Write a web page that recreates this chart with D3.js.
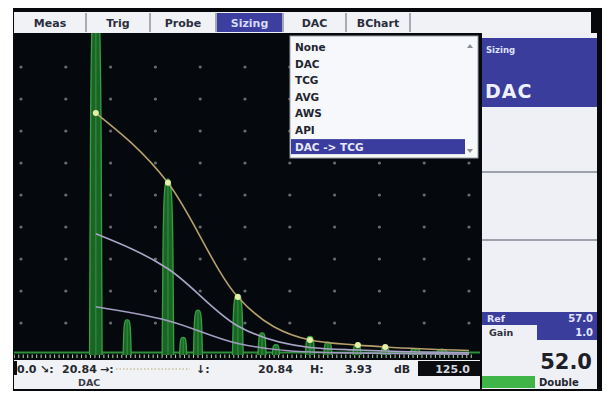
<!DOCTYPE html>
<html>
<head>
<meta charset="utf-8">
<script src="https://cdn.jsdelivr.net/npm/d3@7"></script>
<style>
  body { margin: 0; background: #ffffff; }
  svg { display: block; font-family: "DejaVu Sans", "Liberation Sans", sans-serif; }
</style>
</head>
<body>
<svg id="chart" width="606" height="394"></svg>
<script>
// ---- menu content ----
const tabLabels = ["Meas", "Trig", "Probe", "Sizing", "DAC", "BChart"];
const tabEdges = [14, 86, 150, 216, 283, 346, 410];
const activeTab = "Sizing";
const sizingModes = ["None", "DAC", "TCG", "AVG", "AWS", "API", "DAC -> TCG"];
const selectedMode = "DAC -> TCG";

// ---- DAC reference points: position (% of screen width), amplitude (% full screen height) ----
const dacPos = [16.7, 32.8, 48.4, 64.5, 75.2, 81.3, 100];
const dacAmp = [75.6, 53.8, 18.1, 4.7, 3.1, 2.5, 1.4];
const dacMarked = [true, true, true, true, true, true, false];
// curve family offsets in dB relative to the reference curve
const curveOffsetsDb = [0, -6, -14];

// ---- A-scan echoes: position (%), peak amplitude (% FSH), half width (%) ----
const echoPos = [16.7, 23.7, 32.8, 36.2, 39.5, 48.4, 53.8, 56.9, 64.5, 68.5, 75.0, 81.3, 88.0, 94.0];
const echoAmp = [112, 11, 55, 5.5, 14, 19, 6.9, 3.2, 5.8, 4.0, 3.2, 2.8, 2.0, 1.8];
const echoHalfWidth = [1.4, 0.9, 1.3, 0.8, 1.0, 1.2, 0.9, 0.8, 1.0, 0.9, 0.9, 0.9, 1.2, 1.2];

// ---- graticule ----
const gridCols = d3.range(0, 101, 10);
const gridRows = d3.range(10, 91, 10);

// ---- readouts ----
const statusLabels = ["0.0", "↘:", "20.84", "→:", "↓:", "20.84", "H:", "3.93", "dB"];
const statusX = [17, 40, 62, 100, 196, 258, 310, 345, 394];
const rangeValue = "125.0";
const sizingMode = "DAC";
const refDb = "57.0";
const gainStep = "1.0";
const gainDb = "52.0";
const stepMode = "Double";

const svg = d3.select("#chart");
const defs = svg.append("defs");
defs.append("filter").attr("id", "soft").append("feGaussianBlur").attr("stdDeviation", 0.6);
defs.append("clipPath").attr("id", "screenClip")
  .append("rect").attr("x", 14).attr("y", 33).attr("width", 466).attr("height", 326);

const x = d3.scaleLinear().domain([0, 100]).range([21, 469]);
const y = d3.scaleLinear().domain([0, 100]).range([355, 35]);

// instrument bezel
svg.append("rect").attr("x", 13).attr("y", 8).attr("width", 589).attr("height", 383).attr("fill", "#06080b");

// A-scan screen
svg.append("rect").attr("x", 14).attr("y", 33).attr("width", 466).attr("height", 327).attr("fill", "#05080c");

const screen = svg.append("g").attr("clip-path", "url(#screenClip)");

// graticule dots
const dots = screen.append("g").attr("filter", "url(#soft)");
gridRows.forEach(r => {
  dots.selectAll(null).data(gridCols).join("circle")
    .attr("cx", d => x(d)).attr("cy", y(r)).attr("r", 1.6).attr("fill", "#666c6f");
});

// baseline ruler ticks
const ruler = screen.append("g").attr("filter", "url(#soft)");
ruler.selectAll(null).data(d3.range(-1.5, 101.5, 1)).join("line")
  .attr("x1", d => x(d)).attr("x2", d => x(d))
  .attr("y1", y(0) - 0.5).attr("y2", y(0) + 3)
  .attr("stroke", "#b8d8b0").attr("stroke-width", 1);

// echoes
const echoLine = d3.line().x(d => x(d[0])).y(d => y(d[1])).curve(d3.curveMonotoneX);
const echoes = echoPos.map((p, i) => {
  const a = echoAmp[i], w = echoHalfWidth[i];
  return [[p - w, 0], [p - 0.85 * w, a * 0.6], [p - 0.6 * w, a * 0.92], [p - 0.3 * w, a * 0.99], [p, a],
          [p + 0.3 * w, a * 0.99], [p + 0.6 * w, a * 0.92], [p + 0.85 * w, a * 0.6], [p + w, 0]];
});
const wave = screen.append("g").attr("filter", "url(#soft)");
wave.append("line")
  .attr("x1", 14).attr("x2", 480).attr("y1", y(0.8)).attr("y2", y(0.8))
  .attr("stroke", "#2f8f3a").attr("stroke-width", 2);
wave.selectAll("path.echo").data(echoes).join("path")
  .attr("class", "echo")
  .attr("d", echoLine)
  .attr("fill", "#1d6428")
  .attr("stroke", "#34a043")
  .attr("stroke-width", 1.3);
wave.selectAll("line.core").data(echoPos).join("line")
  .attr("class", "core")
  .attr("x1", d => x(d)).attr("x2", d => x(d))
  .attr("y1", y(0)).attr("y2", (d, i) => y(echoAmp[i] * 0.97))
  .attr("stroke", "#2c9038").attr("stroke-width", 1.2);

// DAC curve family
const curveLine = d3.line().x(d => x(d[0])).y(d => y(d[1])).curve(d3.curveMonotoneX);
const curveColors = ["#b5a06a", "#aaa4c6", "#a29cc0"];
const curves = screen.append("g").attr("filter", "url(#soft)");
curveOffsetsDb.forEach((db, k) => {
  const f = Math.pow(10, db / 20);
  const pts = dacPos.map((p, i) => [p, dacAmp[i] * f]);
  curves.append("path").attr("d", curveLine(pts))
    .attr("fill", "none").attr("stroke", curveColors[k]).attr("stroke-width", 1.6);
});
curves.selectAll("circle").data(dacPos.filter((d, i) => dacMarked[i])).join("circle")
  .attr("cx", d => x(d)).attr("cy", (d, i) => y(dacAmp[i]))
  .attr("r", 3).attr("fill", "#e6efa8");

// tab bar
svg.append("rect").attr("x", 14).attr("y", 12).attr("width", 577).attr("height", 21).attr("fill", "#f1f2f6");
tabLabels.forEach((t, i) => {
  const x0 = tabEdges[i], x1 = tabEdges[i + 1];
  if (t === activeTab) {
    svg.append("rect").attr("x", x0 + 1).attr("y", 13).attr("width", x1 - x0 - 2).attr("height", 19).attr("fill", "#3c3f9f");
  }
  svg.append("line").attr("x1", x1).attr("x2", x1).attr("y1", 13).attr("y2", 32)
    .attr("stroke", "#8d929c").attr("stroke-width", 1.5);
  svg.append("text").attr("x", (x0 + x1) / 2).attr("y", 26.5)
    .attr("text-anchor", "middle").attr("font-size", 11).attr("font-weight", "bold")
    .attr("fill", t === activeTab ? "#d8dafa" : "#2b2e3c").text(t);
});

// sizing mode drop-down
const dd = svg.append("g");
dd.append("rect").attr("x", 290).attr("y", 36).attr("width", 188).attr("height", 122)
  .attr("fill", "#f7f8fb").attr("stroke", "#9aa0aa").attr("stroke-width", 1);
sizingModes.forEach((m, i) => {
  const cy = 47 + i * 16.6;
  if (m === selectedMode) {
    dd.append("rect").attr("x", 291).attr("y", cy - 7.5).attr("width", 174).attr("height", 15).attr("fill", "#3a3d9d");
  }
  dd.append("text").attr("x", 295).attr("y", cy + 4)
    .attr("font-size", 10.5).attr("font-weight", "bold")
    .attr("fill", m === selectedMode ? "#e8e9ff" : "#23252e").text(m);
});
dd.append("path").attr("d", "M467,48 L473,48 L470,44 Z").attr("fill", "#8a8f98");
dd.append("path").attr("d", "M467,149 L473,149 L470,153 Z").attr("fill", "#8a8f98");

// right-hand parameter panel
const rp = svg.append("g");
rp.append("rect").attr("x", 482).attr("y", 33).attr("width", 115).attr("height", 356).attr("fill", "#eef0f6");
rp.append("rect").attr("x", 482).attr("y", 38).attr("width", 115).attr("height", 69).attr("fill", "#3a3d9c");
rp.append("text").attr("x", 486).attr("y", 53).attr("font-size", 8.5).attr("font-weight", "bold")
  .attr("fill", "#dfe1ff").text("Sizing");
rp.append("text").attr("x", 485).attr("y", 98).attr("font-size", 19).attr("font-weight", "bold")
  .attr("fill", "#eef0ff").attr("letter-spacing", 1).text(sizingMode);
[172, 240].forEach(ly => rp.append("line").attr("x1", 482).attr("x2", 597).attr("y1", ly).attr("y2", ly)
  .attr("stroke", "#9ca1ab").attr("stroke-width", 2));
rp.append("rect").attr("x", 482).attr("y", 312).attr("width", 115).attr("height", 13).attr("fill", "#3a3d9c");
rp.append("rect").attr("x", 537).attr("y", 325).attr("width", 60).attr("height", 15).attr("fill", "#3a3d9c");
rp.append("text").attr("x", 487).attr("y", 322).attr("font-size", 9.5).attr("font-weight", "bold").attr("fill", "#e4e6ff").text("Ref");
rp.append("text").attr("x", 593).attr("y", 322).attr("text-anchor", "end").attr("font-size", 10).attr("font-weight", "bold").attr("fill", "#e4e6ff").text(refDb);
rp.append("text").attr("x", 489).attr("y", 336).attr("font-size", 9.5).attr("font-weight", "bold").attr("fill", "#2c2f3a").text("Gain");
rp.append("text").attr("x", 593).attr("y", 336).attr("text-anchor", "end").attr("font-size", 10).attr("font-weight", "bold").attr("fill", "#e4e6ff").text(gainStep);
rp.append("text").attr("x", 592).attr("y", 369).attr("text-anchor", "end").attr("font-size", 21).attr("font-weight", "bold").attr("fill", "#1e2028").text(gainDb);
rp.append("rect").attr("x", 482).attr("y", 376).attr("width", 53).attr("height", 12).attr("fill", "#3fb548");
rp.append("text").attr("x", 539).attr("y", 386).attr("font-size", 10).attr("font-weight", "bold").attr("fill", "#23252e").text(stepMode);

// status bar
const sb = svg.append("g");
sb.append("rect").attr("x", 14).attr("y", 360).attr("width", 466).attr("height", 29).attr("fill", "#f1f2f6");
sb.append("rect").attr("x", 14).attr("y", 361).attr("width", 3).attr("height", 14).attr("fill", "#0c0e12");
sb.append("rect").attr("x", 418).attr("y", 361).attr("width", 62).attr("height", 15).attr("fill", "#0a0c10");
statusLabels.forEach((t, i) => {
  sb.append("text").attr("x", statusX[i]).attr("y", 373).attr("font-size", 11).attr("font-weight", "bold")
    .attr("fill", "#262830").text(t);
});
sb.append("line").attr("x1", 116).attr("x2", 190).attr("y1", 369).attr("y2", 369)
  .attr("stroke", "#b4a86a").attr("stroke-width", 1).attr("stroke-dasharray", "1.5 2");
sb.append("text").attr("x", 470).attr("y", 373).attr("text-anchor", "end").attr("font-size", 11).attr("font-weight", "bold")
  .attr("fill", "#d6d8de").text(rangeValue);
sb.append("text").attr("x", 78).attr("y", 386).attr("font-size", 9.5).attr("font-weight", "bold")
  .attr("fill", "#3a3c48").text(sizingMode);
</script>
</body>
</html>
